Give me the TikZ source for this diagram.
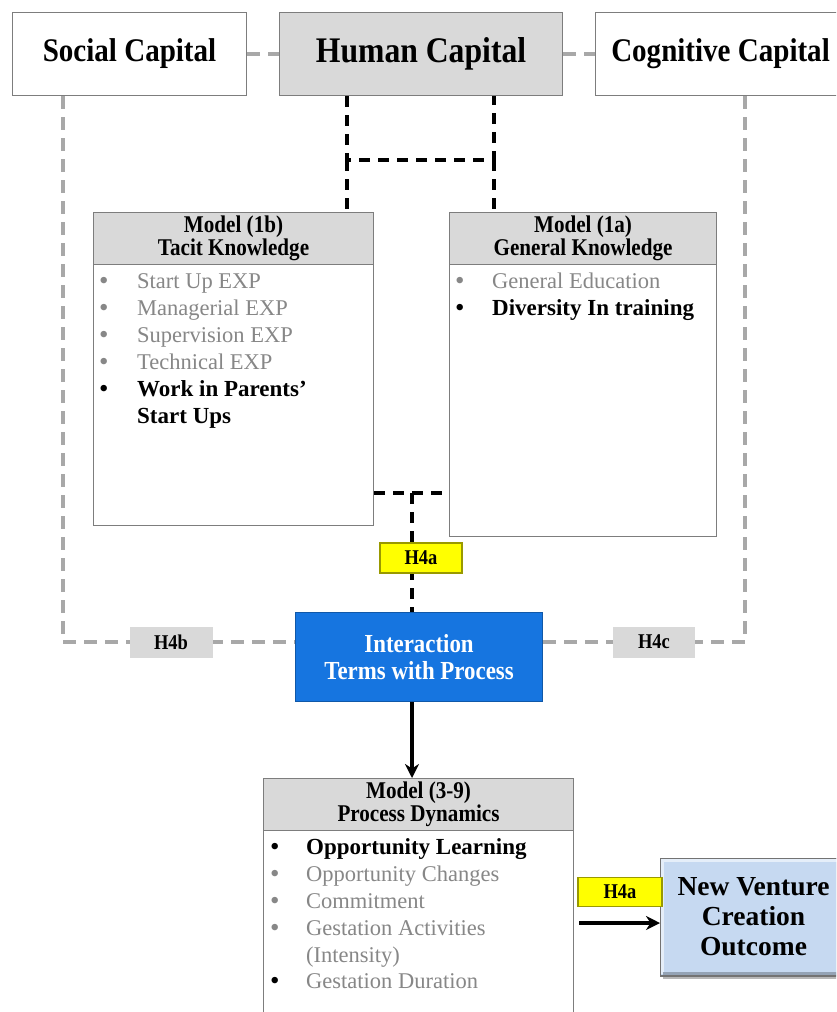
\documentclass[tikz,border=0pt]{standalone}
\usepackage{fontspec}
\setmainfont{Liberation Serif}
\newfontfamily\headfont[FakeStretch=0.88]{Liberation Serif}
\usetikzlibrary{arrows.meta}

\definecolor{boxline}{RGB}{125,125,125}
\definecolor{hdrgray}{RGB}{217,217,217}
\definecolor{linegray}{RGB}{168,168,168}
\definecolor{itemgray}{RGB}{135,135,135}
\definecolor{interblue}{RGB}{22,117,224}
\definecolor{hyellow}{RGB}{255,255,0}
\definecolor{nvblue}{RGB}{198,217,241}

\tikzset{
  box/.style={draw=boxline, line width=1.1pt, inner sep=0pt, anchor=north west},
  capbox/.style={box, font=\headfont\bfseries\fontsize{33}{36}\selectfont},
  hdrbox/.style={box, fill=hdrgray, align=center,
    font=\headfont\bfseries\fontsize{24}{23}\selectfont},
  itemtxt/.style={anchor=base west, inner sep=0pt, font=\fontsize{22.5}{25}\selectfont},
  boldtxt/.style={itemtxt, font=\bfseries\fontsize{23}{25}\selectfont},
  bul/.style={anchor=base west, inner sep=0pt, font=\fontsize{27}{25}\selectfont},
  graydash/.style={draw=linegray, line width=4.5pt, dash pattern=on 13pt off 8pt},
  blackdash/.style={draw=black, line width=3.6pt, dash pattern=on 11pt off 8pt},
  hlabel/.style={inner sep=0pt, font=\headfont\bfseries\fontsize{21}{22}\selectfont},
  yellabel/.style={hlabel, fill=hyellow, draw=black!40!hyellow, line width=1.2pt},
  graylabel/.style={hlabel, fill=hdrgray},
  flow/.style={draw=black, line width=3.2pt, -{Stealth[length=14pt,width=14pt]}}
}

\begin{document}
\begin{tikzpicture}[x=1pt,y=-1pt]
\useasboundingbox (0,0) rectangle (836,1012);
\clip (0,0) rectangle (836,1012);

% top row: the three kinds of capital
\node[capbox, fill=white, minimum width=234pt, minimum height=83pt] (soc) at (12,12) {Social Capital};
\node[capbox, fill=hdrgray, minimum width=283pt, minimum height=83pt,
      font=\headfont\bfseries\fontsize{36}{38}\selectfont] (hum) at (279,12) {Human Capital};
\node[capbox, fill=white, minimum width=250pt, minimum height=83pt] (cog) at (595,12) {Cognitive Capital};

% knowledge models
\node[box, fill=white, minimum width=280pt, minimum height=313pt] (tacit) at (93,212) {};
\node[hdrbox, minimum width=280pt, minimum height=52pt] (tacithd) at (93,212) {Model (1b)\\Tacit Knowledge};
\node[box, fill=white, minimum width=267pt, minimum height=324pt] (gen) at (449,212) {};
\node[hdrbox, minimum width=267pt, minimum height=52pt] (genhd) at (449,212) {Model (1a)\\General Knowledge};

% tacit knowledge items
\node[bul, text=itemgray] (tb1) at (99,289) {\textbullet};
\node[itemtxt, text=itemgray] (ti1) at (137,288) {Start Up EXP};
\node[bul, text=itemgray] (tb2) at (99,316) {\textbullet};
\node[itemtxt, text=itemgray] (ti2) at (137,315) {Managerial EXP};
\node[bul, text=itemgray] (tb3) at (99,343) {\textbullet};
\node[itemtxt, text=itemgray] (ti3) at (137,342) {Supervision EXP};
\node[bul, text=itemgray] (tb4) at (99,370) {\textbullet};
\node[itemtxt, text=itemgray] (ti4) at (137,369) {Technical EXP};
\node[bul] (tb5) at (99,397) {\textbullet};
\node[boldtxt] (ti5) at (137,396) {Work in Parents’};
\node[boldtxt] (ti6) at (137,423) {Start Ups};

% general knowledge items
\node[bul, text=itemgray] (gb1) at (455,289) {\textbullet};
\node[itemtxt, text=itemgray] (gi1) at (492,288) {General Education};
\node[bul] (gb2) at (455,316) {\textbullet};
\node[boldtxt] (gi2) at (492,315) {Diversity In training};

% interaction terms
\node[box, draw=interblue!75!black, fill=interblue, text=white, align=center,
      minimum width=247pt, minimum height=89pt,
      font=\headfont\bfseries\fontsize{26}{27}\selectfont] (inter) at (295,612)
      {Interaction\\Terms with Process};

% process dynamics
\node[box, fill=white, minimum width=310pt, minimum height=260pt] (proc) at (263,778) {};
\node[hdrbox, minimum width=310pt, minimum height=52pt] (prochd) at (263,778) {Model (3-9)\\Process Dynamics};

\node[bul] (pb1) at (270,855) {\textbullet};
\node[boldtxt] (pi1) at (306,854) {Opportunity Learning};
\node[bul, text=itemgray] (pb2) at (270,882) {\textbullet};
\node[itemtxt, text=itemgray] (pi2) at (306,881) {Opportunity Changes};
\node[bul, text=itemgray] (pb3) at (270,909) {\textbullet};
\node[itemtxt, text=itemgray] (pi3) at (306,908) {Commitment};
\node[bul, text=itemgray] (pb4) at (270,936) {\textbullet};
\node[itemtxt, text=itemgray] (pi4) at (306,935) {Gestation Activities};
\node[itemtxt, text=itemgray] (pi5) at (306,962) {(Intensity)};
\node[bul] (pb6) at (270,989) {\textbullet};
\node[itemtxt, text=itemgray] (pi6) at (306,988) {Gestation Duration};

% outcome box: soft shadow, fill and bevelled edges
\fill[black!28] (663,862) rectangle (850,979);
\node[box, draw=black!55, line width=1pt, fill=nvblue, align=center,
      minimum width=186pt, minimum height=117pt,
      font=\bfseries\fontsize{27.5}{30}\selectfont] (nv) at (660,858)
      {New Venture\\Creation\\Outcome};
\draw[white!55!nvblue, line width=3pt]
  ([shift={(2.5,-2.5)}]nv.south west) -- ([shift={(2.5,2.5)}]nv.north west) -- ([shift={(-2.5,2.5)}]nv.north east);
\draw[black!25!nvblue, line width=3pt]
  ([shift={(2.5,-2.5)}]nv.south west) -- ([shift={(-2.5,-2.5)}]nv.south east);
\draw[black!55, line width=1pt] (nv.south west) rectangle (nv.north east);

% connectors among the capitals
\draw[graydash] (soc.east) -- (hum.west);
\draw[graydash] (hum.east) -- (cog.west);

\coordinate (lcorner) at (63,642);
\coordinate (rcorner) at (745,642);
\draw[graydash] (soc.south -| lcorner) -- (lcorner) -- (inter.west |- lcorner);
\draw[graydash] (cog.south -| rcorner) -- (rcorner) -- (inter.east |- rcorner);

\coordinate (jl) at (347,160);
\coordinate (jr) at (494,160);
\draw[blackdash] (hum.south -| jl) -- (jl) -- (jr) -- (hum.south -| jr);
\draw[blackdash] (jl) -- (tacithd.north -| jl);
\draw[blackdash] (jr) -- (genhd.north -| jr);

\coordinate (mid) at (412,493);
\draw[blackdash] (tacit.east |- mid) -- (gen.west |- mid);
\draw[blackdash] (mid) -- (inter.north -| mid);

% hypothesis labels
\node[yellabel, minimum width=82pt, minimum height=30pt] (h4a) at (421,558) {H4a};
\node[graylabel, minimum width=83pt, minimum height=31pt] (h4b) at (171,642) {H4b};
\node[graylabel, minimum width=82pt, minimum height=31pt] (h4c) at (654,642) {H4c};

% flow arrows
\draw[flow] (inter.south -| mid) -- (prochd.north -| mid);
\coordinate (arry) at (0,923);
\draw[flow] ([xshift=5pt]proc.east |- arry) -- (nv.west |- arry);
\node[yellabel, minimum width=84pt, minimum height=29pt] (h4d) at (620,892) {H4a};

\end{tikzpicture}
\end{document}
